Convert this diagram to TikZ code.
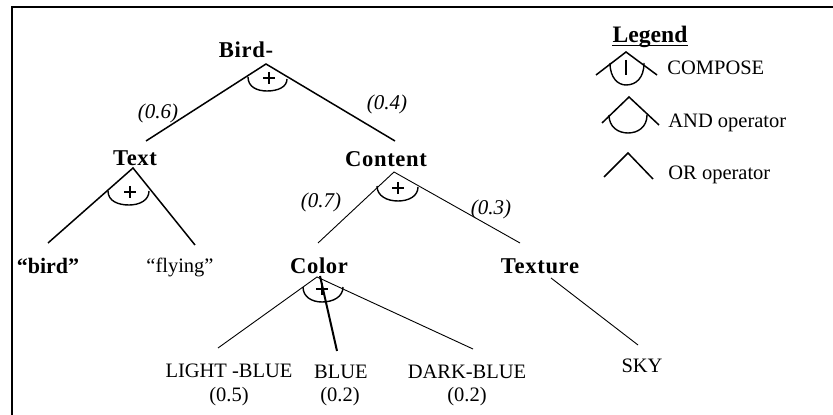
\documentclass[tikz,border=0pt]{standalone}
\usepackage{fontspec}
\setmainfont{Liberation Serif}
\usetikzlibrary{calc}
\tikzset{
  lbl/.style={inner sep=0pt, anchor=base, font=\fontsize{10.25}{12}\selectfont},
  blbl/.style={inner sep=0pt, anchor=base, font=\fontsize{11.3}{13}\selectfont\bfseries\addfontfeature{LetterSpace=3}},
  wt/.style={inner sep=0pt, font=\fontsize{10.5}{12}\selectfont\itshape},
  edge/.style={line width=0.75pt},
  thinedge/.style={line width=0.45pt},
  thickedge/.style={line width=1pt},
  andarc/.style={line width=0.7pt},
  frame/.style={line width=1.2pt}
}
\begin{document}
\begin{tikzpicture}[x=0.5pt,y=-0.5pt]
\useasboundingbox (0,0) rectangle (833,415);
% frame
\coordinate (fr1) at (833,7);
\coordinate (fr2) at (12,7);
\coordinate (fr3) at (12,415);
\draw[frame] (fr1) -- (fr2) -- (fr3);

% labels
\node[blbl] (bird) at (246,58) {Bird-};
\node[blbl] (text) at (135,166) {Text};
\node[blbl] (content) at (386,167) {Content};
\node[blbl, font=\fontsize{11}{13}\selectfont\bfseries] (qbird) at (48,274) {“bird”};
\node[lbl] (flying) at (180,273) {“flying”};
\node[blbl] (color) at (319,274) {Color};
\node[blbl] (texture) at (540,274) {Texture};
\node[lbl] (lblue) at (229,378) {LIGHT -BLUE};
\node[lbl] (blue) at (341,379) {BLUE};
\node[lbl] (dblue) at (467,379) {DARK-BLUE};
\node[lbl] (w1) at (229,402) {(0.5)};
\node[lbl] (w2) at (340,402) {(0.2)};
\node[lbl] (w3) at (467,402) {(0.2)};
\node[lbl] (sky) at (642,373) {SKY};
\node[wt] (p06) at (158,113) {(0.6)};
\node[wt] (p04) at (387,104) {(0.4)};
\node[wt] (p07) at (321,202) {(0.7)};
\node[wt] (p03) at (491,209) {(0.3)};

% tree coordinates
\coordinate (BA) at (266,64);
\coordinate (BL) at (146,141);
\coordinate (BR) at (395,141);
\coordinate (TA) at (133,168);
\coordinate (TL) at (48,243);
\coordinate (TR) at (195,245);
\coordinate (CA) at (394,172);
\coordinate (CL) at (318,243);
\coordinate (CR) at (520,243);
\coordinate (KA) at (317,277);
\coordinate (KL) at (218,348);
\coordinate (KMa) at (320,276);
\coordinate (KM) at (337,351);
\coordinate (KR) at (473,349);
\coordinate (XA) at (551,278);
\coordinate (XE) at (638,345);

\draw[edge] (BL) -- (BA) -- (BR);
\draw[edge] (TL) -- (TA) -- (TR);
\draw[thinedge] (CL) -- (CA) -- (CR);
\draw[thinedge] (KL) -- (KA) -- (KR);
\draw[thickedge] (KMa) -- (KM);
\draw[thinedge] (XA) -- (XE);

% AND arcs
\draw[andarc] (248,77) .. controls (248,87) and (257,91) .. (267,91) .. controls (278,91) and (287,87) .. (287,79);
\draw[andarc] (108,191) .. controls (108,201) and (118,205) .. (129,205) .. controls (140,205) and (149,200) .. (149,191);
\draw[andarc] (377,186) .. controls (377,196) and (387,201) .. (398,201) .. controls (409,201) and (418,196) .. (418,187);
\draw[andarc] (303,287) .. controls (303,297) and (312,302) .. (322,302) .. controls (333,302) and (343,297) .. (343,287);
% plus signs
\draw[andarc] (263,78) -- (275,78) (269,72) -- (269,84);
\draw[andarc] (124,192) -- (136,192) (130,186) -- (130,198);
\draw[andarc] (392,188) -- (404,188) (398,182) -- (398,194);
\draw[andarc] (316,289) -- (328,289) (322,283) -- (322,295);

% legend
\node[blbl, font=\fontsize{11.8}{13}\selectfont\bfseries] (leg) at (650,43) {Legend};
\draw[line width=0.6pt] ($(leg.base west)+(0,2.5)$) -- ($(leg.base east)+(0,2.5)$);
\coordinate (LCa) at (626,52);
\coordinate (LCl) at (596,75);
\coordinate (LCr) at (657,75);
\draw[edge] (LCl) -- (LCa) -- (LCr);
\draw[andarc] (610,63) .. controls (610,78) and (618,85) .. (626,85) .. controls (636,85) and (644,78) .. (644,63);
\draw[andarc] (626,60) -- (626,75);
\node[lbl, anchor=base west] (lcomp) at (667,75) {COMPOSE};
\coordinate (LAa) at (629,97);
\coordinate (LAl) at (602,123);
\coordinate (LAr) at (659,125);
\draw[edge] (LAl) -- (LAa) -- (LAr);
\draw[andarc] (609,115) .. controls (609,127) and (618,133) .. (628,133) .. controls (638,133) and (647,127) .. (647,115);
\node[lbl, anchor=base west] (land) at (668,128) {AND operator};
\coordinate (LOa) at (628,153);
\coordinate (LOl) at (604,177);
\coordinate (LOr) at (653,179);
\draw[edge] (LOl) -- (LOa) -- (LOr);
\node[lbl, anchor=base west] (lor) at (668,180) {OR operator};
\end{tikzpicture}
\end{document}
